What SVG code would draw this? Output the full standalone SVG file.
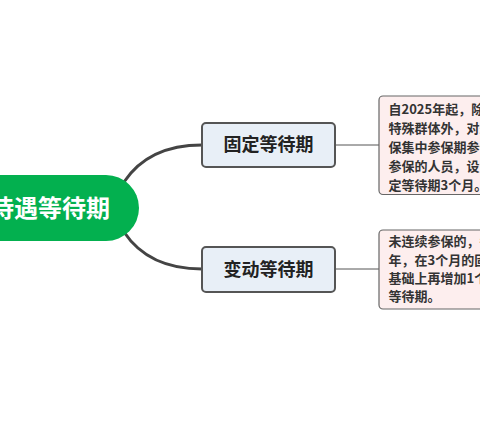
<svg xmlns="http://www.w3.org/2000/svg" width="480" height="424" viewBox="0 0 480 424">
<style>
.conn{fill:none;stroke:#444;stroke-width:3;stroke-linecap:round}
.thin{fill:none;stroke:#555;stroke-width:1}
.sub{fill:#e8eff7;stroke:#555;stroke-width:2}
.subt{font-family:"Noto Sans CJK SC","Noto Sans",sans-serif;font-weight:bold;font-size:18px;fill:#222;text-anchor:middle}
.note{fill:#fdeeee;stroke:#666;stroke-width:1.2}
.nt{font-family:"Noto Sans CJK SC","Noto Sans",sans-serif;font-weight:bold;font-size:13px;fill:#333}
.root{font-family:"Noto Sans CJK SC","Noto Sans",sans-serif;font-weight:bold;font-size:24px;fill:#fff}
</style>
<rect width="480" height="424" fill="#fff"/>
<g id="connectors">
<path class="conn" d="M124,182 C140,158 165,145 202,145"/>
<path class="conn" d="M124,232 C140,256 165,269 202,269"/>
<line class="thin" x1="336" y1="145" x2="379" y2="145"/>
<line class="thin" x1="336" y1="269" x2="379" y2="269"/>
</g>
<g id="root">
<rect x="-60" y="175" width="199" height="66" rx="33" fill="#03b04f"/>
<text class="root" x="-10" y="217">待遇等待期</text>
</g>
<g id="fixed">
<rect class="sub" x="202" y="123" width="133" height="44" rx="4"/>
<text class="subt" x="268.5" y="151">固定等待期</text>
</g>
<g id="variable">
<rect class="sub" x="202" y="247" width="133" height="45" rx="4"/>
<text class="subt" x="268.5" y="275.5">变动等待期</text>
</g>
<g id="note1">
<rect class="note" x="379" y="96" width="110" height="98.5" rx="4"/>
<text class="nt" x="388.5" y="113.5">自2025年起，除</text>
<text class="nt" x="388.5" y="132.5">特殊群体外，对未</text>
<text class="nt" x="388.5" y="151.5">保集中参保期参保</text>
<text class="nt" x="388.5" y="170.5">参保的人员，设置</text>
<text class="nt" x="388.5" y="189.5">定等待期3个月。</text>
</g>
<g id="note2">
<rect class="note" x="379" y="230" width="110" height="79" rx="4"/>
<text class="nt" x="388.5" y="246">未连续参保的，每</text>
<text class="nt" x="388.5" y="264.5">年，在3个月的固</text>
<text class="nt" x="388.5" y="283">基础上再增加1个</text>
<text class="nt" x="388.5" y="301">等待期。</text>
</g>
</svg>
